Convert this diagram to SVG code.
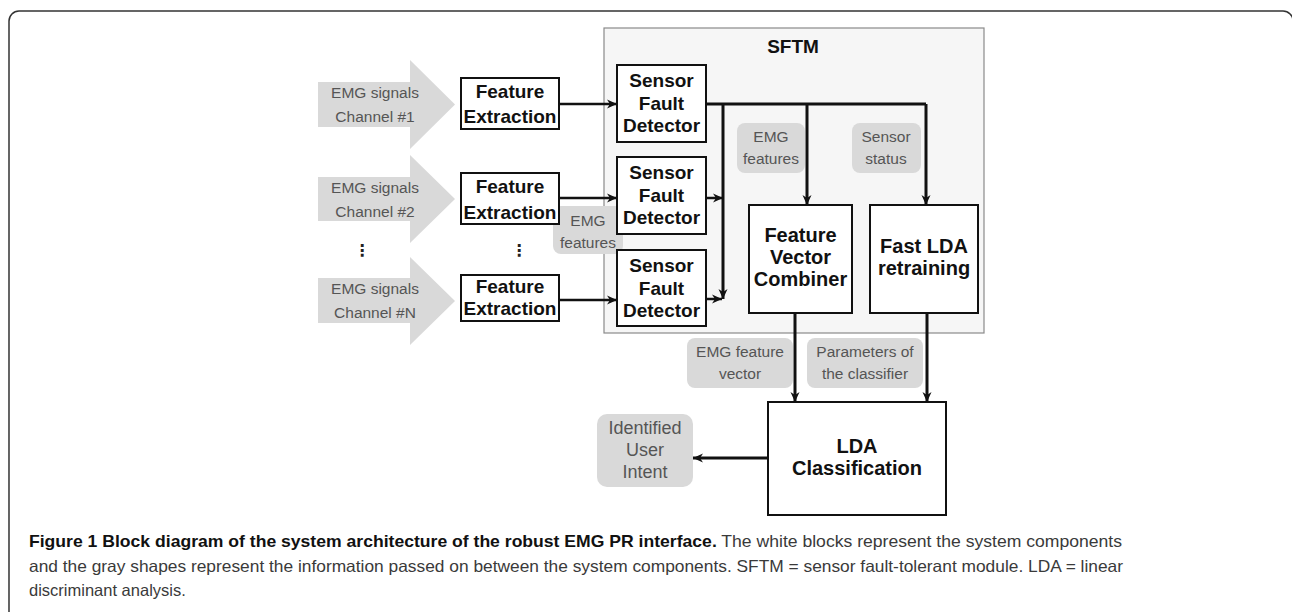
<svg xmlns="http://www.w3.org/2000/svg" width="1292" height="612" viewBox="0 0 1292 612">
<style>
.box{fill:#fff;stroke:#111;stroke-width:2}
.bt{font-family:"Liberation Sans",Arial,sans-serif;font-weight:bold;font-size:19px;fill:#111;text-anchor:middle}
.b20{font-size:20px}
.gt{font-family:"Liberation Sans",Arial,sans-serif;font-size:15.5px;fill:#555;text-anchor:middle}
.g18{font-size:18px}
.lbl{fill:#d9d9d9}
.big{fill:#d9d9d9}
.ln{fill:none;stroke:#111;stroke-width:3}
.ln2{fill:none;stroke:#111;stroke-width:2.5}
.cap{font-family:"Liberation Sans",Arial,sans-serif;font-size:16.5px;fill:#3a3a3a}
</style>
<defs>
<marker id="ah" viewBox="0 0 10 10" refX="10" refY="5" markerWidth="10" markerHeight="10" markerUnits="userSpaceOnUse" orient="auto">
<path d="M0,0.5 L10,5 L0,9.5 L3,5 Z" fill="#111"/>
</marker>
</defs>
<rect width="1292" height="612" fill="#fff"/>
<rect x="9" y="11" width="1284" height="700" rx="10" fill="none" stroke="#333" stroke-width="1.5"/>

<g id="sftm">
<rect x="604" y="28" width="380" height="305" fill="#f6f6f6" stroke="#8a8a8a" stroke-width="1.2"/>
<text x="793" y="53" class="bt">SFTM</text>
</g>

<g id="label-emg-features-left">
<rect x="553" y="206" width="70" height="48" rx="8" class="lbl"/>
<text x="588" y="226" class="gt">EMG</text>
<text x="588" y="248" class="gt">features</text>
</g>

<g id="input1">
<path d="M318,82 H410 V60 L455,104.5 L410,149 V127 H318 Z" class="big"/>
<text x="375" y="98" class="gt">EMG signals</text>
<text x="375" y="122" class="gt">Channel #1</text>
</g>
<g id="input2">
<path d="M318,177 H410 V155 L455,199 L410,243 V221 H318 Z" class="big"/>
<text x="375" y="193" class="gt">EMG signals</text>
<text x="375" y="217" class="gt">Channel #2</text>
</g>
<g id="input3">
<path d="M318,278 H410 V257 L455,301 L410,345 V323 H318 Z" class="big"/>
<text x="375" y="294" class="gt">EMG signals</text>
<text x="375" y="318" class="gt">Channel #N</text>
</g>
<g id="dots">
<text x="362" y="256" font-family="DejaVu Sans,sans-serif" font-size="16" font-weight="bold" fill="#222" text-anchor="middle">⋮</text>
<text x="519" y="256" font-family="DejaVu Sans,sans-serif" font-size="16" font-weight="bold" fill="#222" text-anchor="middle">⋮</text>
</g>

<g id="fe1">
<rect x="461" y="78" width="98" height="51" class="box"/>
<text x="510" y="98" class="bt">Feature</text>
<text x="510" y="123" class="bt">Extraction</text>
</g>
<g id="fe2">
<rect x="461" y="173" width="98" height="51" class="box"/>
<text x="510" y="193" class="bt">Feature</text>
<text x="510" y="219" class="bt">Extraction</text>
</g>
<g id="fe3">
<rect x="461" y="275" width="98" height="46" class="box"/>
<text x="510" y="293" class="bt">Feature</text>
<text x="510" y="315" class="bt">Extraction</text>
</g>

<g id="sfd1">
<rect x="617" y="65" width="89" height="77" class="box"/>
<text x="661.5" y="87" class="bt">Sensor</text>
<text x="661.5" y="110" class="bt">Fault</text>
<text x="661.5" y="132" class="bt">Detector</text>
</g>
<g id="sfd2">
<rect x="617" y="157" width="89" height="77" class="box"/>
<text x="661.5" y="179" class="bt">Sensor</text>
<text x="661.5" y="202" class="bt">Fault</text>
<text x="661.5" y="224" class="bt">Detector</text>
</g>
<g id="sfd3">
<rect x="617" y="250" width="89" height="76" class="box"/>
<text x="661.5" y="272" class="bt">Sensor</text>
<text x="661.5" y="295" class="bt">Fault</text>
<text x="661.5" y="317" class="bt">Detector</text>
</g>

<g id="label-emg-features">
<rect x="737" y="123" width="68" height="50" rx="8" class="lbl"/>
<text x="771" y="142" class="gt">EMG</text>
<text x="771" y="164" class="gt">features</text>
</g>
<g id="label-sensor-status">
<rect x="852" y="123" width="69" height="50" rx="8" class="lbl"/>
<text x="886" y="142" class="gt">Sensor</text>
<text x="886" y="164" class="gt">status</text>
</g>

<g id="fvc">
<rect x="749" y="205" width="103" height="108" class="box"/>
<text x="800.5" y="242" class="bt b20">Feature</text>
<text x="800.5" y="264" class="bt b20">Vector</text>
<text x="800.5" y="286" class="bt b20">Combiner</text>
</g>
<g id="fastlda">
<rect x="870" y="205" width="108" height="108" class="box"/>
<text x="924" y="253" class="bt b20">Fast LDA</text>
<text x="924" y="275" class="bt b20">retraining</text>
</g>

<g id="label-feature-vector">
<rect x="687" y="338" width="106" height="50" rx="8" class="lbl"/>
<text x="740" y="357" class="gt">EMG feature</text>
<text x="740" y="379" class="gt">vector</text>
</g>
<g id="label-parameters">
<rect x="807" y="338" width="116" height="50" rx="8" class="lbl"/>
<text x="865" y="357" class="gt">Parameters of</text>
<text x="865" y="379" class="gt">the classifier</text>
</g>

<g id="lda">
<rect x="768" y="402" width="178" height="113" class="box"/>
<text x="857" y="453" class="bt b20">LDA</text>
<text x="857" y="475" class="bt b20">Classification</text>
</g>

<g id="label-intent">
<rect x="597" y="414" width="96" height="73" rx="10" class="lbl"/>
<text x="645" y="434" class="gt g18">Identified</text>
<text x="645" y="456" class="gt g18">User</text>
<text x="645" y="478" class="gt g18">Intent</text>
</g>

<g id="connectors">
<path d="M559,104 H617" class="ln2" marker-end="url(#ah)"/>
<path d="M559,198 H617" class="ln2" marker-end="url(#ah)"/>
<path d="M559,300 H617" class="ln2" marker-end="url(#ah)"/>
<path d="M706,104 H926" class="ln"/>
<path d="M723,104 V299" class="ln" marker-end="url(#ah)"/>
<path d="M706,198 H723" class="ln2" marker-end="url(#ah)"/>
<path d="M706,299 H722" class="ln2" marker-end="url(#ah)"/>
<path d="M807,104 V205" class="ln" marker-end="url(#ah)"/>
<path d="M926,104 V205" class="ln" marker-end="url(#ah)"/>
<path d="M795,313 V402" class="ln" marker-end="url(#ah)"/>
<path d="M927,313 V402" class="ln" marker-end="url(#ah)"/>
<path d="M768,458 H693" class="ln" marker-end="url(#ah)"/>
</g>

<g id="caption">
<text x="29" y="547" class="cap" textLength="1093" lengthAdjust="spacingAndGlyphs"><tspan font-weight="bold" fill="#111">Figure 1 Block diagram of the system architecture of the robust EMG PR interface.</tspan> The white blocks represent the system components</text>
<text x="29" y="572" class="cap" textLength="1094" lengthAdjust="spacingAndGlyphs">and the gray shapes represent the information passed on between the system components. SFTM = sensor fault-tolerant module. LDA = linear</text>
<text x="29" y="596" class="cap">discriminant analysis.</text>
</g>
</svg>
